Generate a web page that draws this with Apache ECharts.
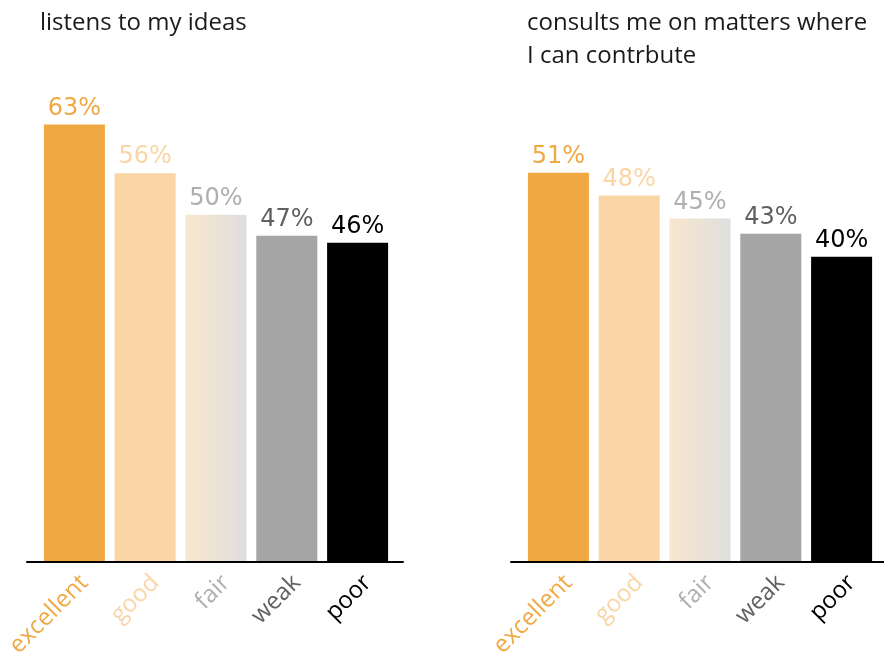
<!DOCTYPE html>
<html><head><meta charset="utf-8">
<script src="https://cdn.jsdelivr.net/npm/echarts@6/dist/echarts.min.js"></script>
<style>html,body{margin:0;padding:0;background:#fff}#c{width:884px;height:655px}</style>
</head><body><div id="c"></div>
<script>
const categories = ['excellent', 'good', 'fair', 'weak', 'poor'];
const listensValues = [63, 56, 50, 47, 46];
const consultsValues = [51, 48, 45, 43, 40];
const titleLeft = 'listens to my ideas';
const titleRight = 'consults me on matters where\nI can contrbute';

const FONT = 'Open Sans';
const barColors = [
  '#F0A842',
  '#FAD5A6',
  {type:'linear', x:0, y:0, x2:1, y2:0, colorStops:[{offset:0,color:'#F9E7CE'},{offset:1,color:'#DEDEDE'}]},
  '#A5A5A5',
  '#000000'
];
const textColors = ['#F0A842', '#FAD5A6', '#AFAFAF', '#606060', '#000000'];

function seriesData(vals){
  return vals.map((v,i)=>({value:v, itemStyle:{color:barColors[i]}, label:{color:textColors[i]}}));
}
function catAxis(gi, showLabels){
  return {type:'category', gridIndex:gi, data:categories,
    axisLine:{show:false}, axisTick:{show:false},
    axisLabel:{show:showLabels, rotate:45, fontSize:24, fontFamily:FONT, margin:10, interval:0,
      color:(val,idx)=>textColors[categories.indexOf(val)]}};
}
function hiddenVal(gi, max){
  return {type:'value', gridIndex:gi, min:0, max:max, show:false};
}
function lineAxis(gi){
  return {type:'value', gridIndex:gi, z:10, axisLine:{show:true, onZero:false, lineStyle:{color:'#000', width:2}},
    axisTick:{show:false}, axisLabel:{show:false}, splitLine:{show:false}};
}
const G = {outerBoundsMode:'none', containLabel:false};

const chart = echarts.init(document.getElementById('c'), null, {renderer:'canvas'});
chart.setOption({
  animation:false,
  title:[
    {text:titleLeft, left:35, top:2, textStyle:{fontFamily:FONT, fontSize:24, fontWeight:'normal', color:'#1a1a1a', lineHeight:33}},
    {text:titleRight, left:522, top:2, textStyle:{fontFamily:FONT, fontSize:24, fontWeight:'normal', color:'#1a1a1a', lineHeight:33}}
  ],
  grid:[
    Object.assign({left:39, width:354, top:76, bottom:93}, G),
    Object.assign({left:523, width:354, top:104, bottom:93}, G),
    Object.assign({left:27, width:376, top:76, bottom:93}, G),
    Object.assign({left:511, width:373, top:76, bottom:93}, G),
    Object.assign({left:49, width:354, top:76, bottom:86}, G),
    Object.assign({left:533, width:354, top:104, bottom:86}, G)
  ],
  xAxis:[catAxis(0,false), catAxis(1,false), lineAxis(2), lineAxis(3), catAxis(4,true), catAxis(5,true)],
  yAxis:[hiddenVal(0,70), hiddenVal(1,60), hiddenVal(2,1), hiddenVal(3,1), hiddenVal(4,1), hiddenVal(5,1)],
  series:[
    {type:'bar', xAxisIndex:0, yAxisIndex:0, data:seriesData(listensValues), barWidth:61,
      label:{show:true, position:'top', distance:4, formatter:'{c}%', fontSize:24, fontFamily:'DejaVu Sans'}},
    {type:'bar', xAxisIndex:1, yAxisIndex:1, data:seriesData(consultsValues), barWidth:61,
      label:{show:true, position:'top', distance:4, formatter:'{c}%', fontSize:24, fontFamily:'DejaVu Sans'}}
  ]
});
</script></body></html>
